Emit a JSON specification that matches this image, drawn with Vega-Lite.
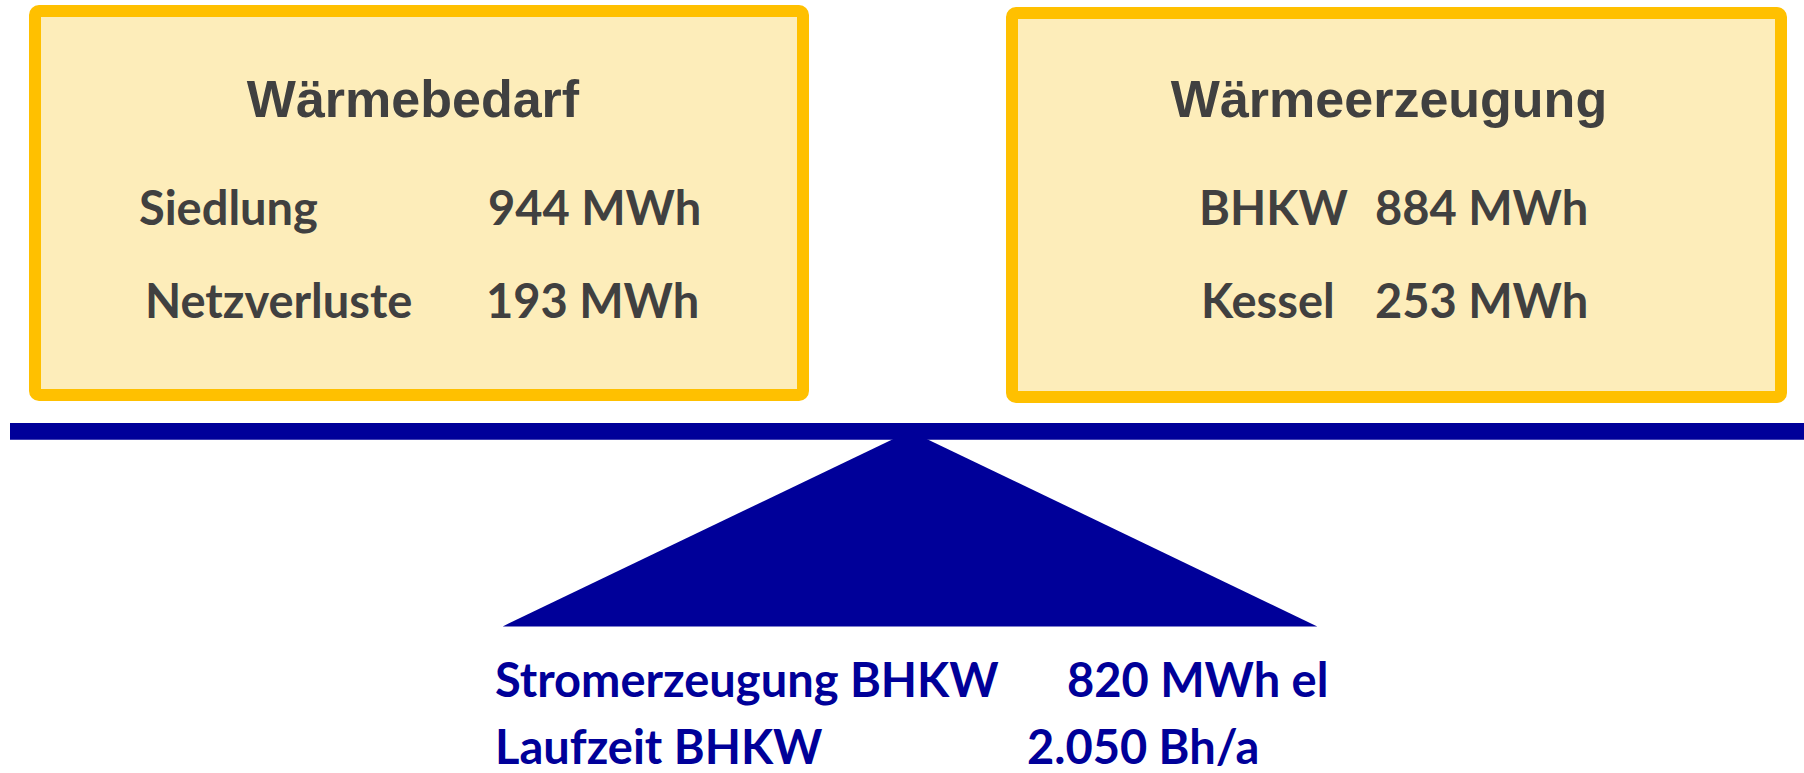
{
  "$schema": "https://vega.github.io/schema/vega-lite/v6.json",
  "width": 1804,
  "height": 773,
  "autosize": {"type": "fit", "contains": "padding"},
  "padding": 0,
  "background": "white",
  "config": {"view": {"stroke": null}},
  "datasets": {
    "boxes": [
      {"name": "Wärmebedarf", "x1": 35, "x2": 803, "y1": 11, "y2": 396},
      {"name": "Wärmeerzeugung", "x1": 1012, "x2": 1781, "y1": 13, "y2": 398}
    ],
    "beam": [{"x1": 10, "x2": 1804, "y1": 424, "y2": 441}],
    "fulcrum": [
      {"x": 502.7, "y": 628, "y2": 628},
      {"x": 910, "y": 432, "y2": 628},
      {"x": 1317.3, "y": 628, "y2": 628}
    ],
    "titles": [
      {"text": "Wärmebedarf", "x": 413, "y": 117},
      {"text": "Wärmeerzeugung", "x": 1389, "y": 117}
    ],
    "rows": [
      {"text": "Siedlung", "x": 139, "y": 226},
      {"text": "944 MWh", "x": 488, "y": 226},
      {"text": "Netzverluste", "x": 145, "y": 319},
      {"text": "193 MWh", "x": 486, "y": 319},
      {"text": "BHKW", "x": 1199, "y": 226},
      {"text": "884 MWh", "x": 1375, "y": 226},
      {"text": "Kessel", "x": 1201, "y": 319},
      {"text": "253 MWh", "x": 1375, "y": 319}
    ],
    "bottom": [
      {"text": "Stromerzeugung BHKW", "x": 495, "y": 699},
      {"text": "820 MWh el", "x": 1067, "y": 699},
      {"text": "Laufzeit BHKW", "x": 495, "y": 766},
      {"text": "2.050 Bh/a", "x": 1027, "y": 766}
    ]
  },
  "layer": [
    {
      "data": {"name": "boxes"},
      "mark": {"type": "rect", "fill": "#FDEDBA", "stroke": "#FFC000", "strokeWidth": 12, "cornerRadius": 4},
      "encoding": {
        "x": {"field": "x1", "type": "quantitative", "scale": {"domain": [0, 1804], "nice": false, "zero": false}, "axis": null},
        "x2": {"field": "x2"},
        "y": {"field": "y1", "type": "quantitative", "scale": {"domain": [0, 773], "nice": false, "zero": false, "reverse": true}, "axis": null},
        "y2": {"field": "y2"}
      }
    },
    {
      "data": {"name": "beam"},
      "mark": {"type": "rect", "fill": "#000099"},
      "encoding": {
        "x": {"field": "x1", "type": "quantitative", "scale": {"domain": [0, 1804], "nice": false, "zero": false}, "axis": null},
        "x2": {"field": "x2"},
        "y": {"field": "y1", "type": "quantitative", "scale": {"domain": [0, 773], "nice": false, "zero": false, "reverse": true}, "axis": null},
        "y2": {"field": "y2"}
      }
    },
    {
      "data": {"name": "fulcrum"},
      "mark": {"type": "area", "color": "#000099", "orient": "vertical", "interpolate": "linear"},
      "encoding": {
        "x": {"field": "x", "type": "quantitative", "scale": {"domain": [0, 1804], "nice": false, "zero": false}, "axis": null},
        "y": {"field": "y", "type": "quantitative", "scale": {"domain": [0, 773], "nice": false, "zero": false, "reverse": true}, "axis": null},
        "y2": {"field": "y2"}
      }
    },
    {
      "data": {"name": "titles"},
      "mark": {"type": "text", "font": "Liberation Sans", "fontWeight": "bold", "fontSize": 52, "fill": "#404040", "align": "center", "baseline": "alphabetic"},
      "encoding": {
        "x": {"field": "x", "type": "quantitative", "scale": {"domain": [0, 1804], "nice": false, "zero": false}, "axis": null},
        "y": {"field": "y", "type": "quantitative", "scale": {"domain": [0, 773], "nice": false, "zero": false, "reverse": true}, "axis": null},
        "text": {"field": "text"}
      }
    },
    {
      "data": {"name": "rows"},
      "mark": {"type": "text", "font": "Lato", "fontWeight": "bold", "fontSize": 47, "fill": "#404040", "align": "left", "baseline": "alphabetic"},
      "encoding": {
        "x": {"field": "x", "type": "quantitative", "scale": {"domain": [0, 1804], "nice": false, "zero": false}, "axis": null},
        "y": {"field": "y", "type": "quantitative", "scale": {"domain": [0, 773], "nice": false, "zero": false, "reverse": true}, "axis": null},
        "text": {"field": "text"}
      }
    },
    {
      "data": {"name": "bottom"},
      "mark": {"type": "text", "font": "Lato", "fontWeight": "bold", "fontSize": 47, "fill": "#000099", "align": "left", "baseline": "alphabetic"},
      "encoding": {
        "x": {"field": "x", "type": "quantitative", "scale": {"domain": [0, 1804], "nice": false, "zero": false}, "axis": null},
        "y": {"field": "y", "type": "quantitative", "scale": {"domain": [0, 773], "nice": false, "zero": false, "reverse": true}, "axis": null},
        "text": {"field": "text"}
      }
    }
  ]
}
